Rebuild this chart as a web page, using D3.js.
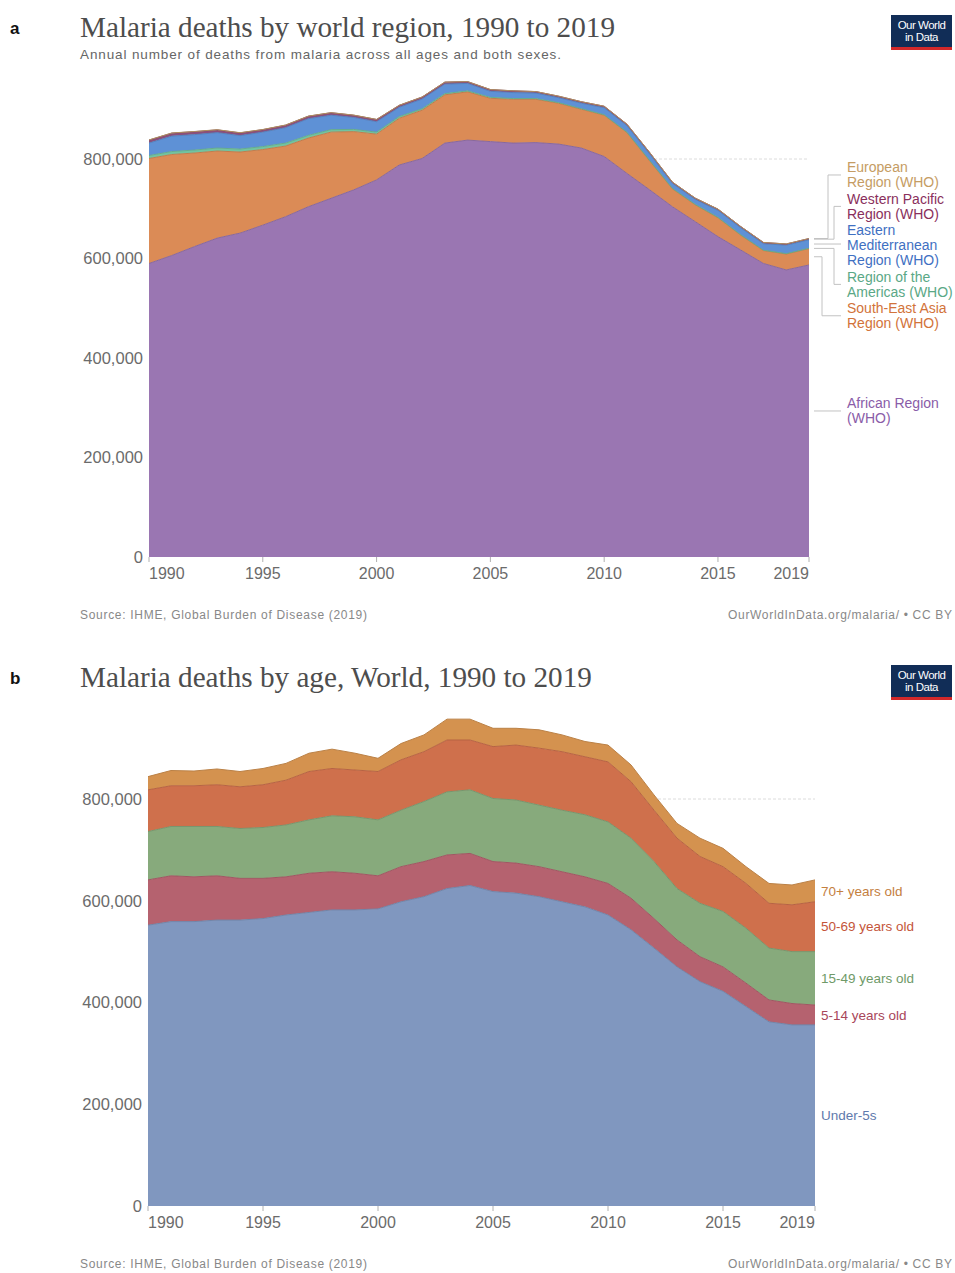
<!DOCTYPE html>
<html><head><meta charset="utf-8">
<script src="https://cdn.jsdelivr.net/npm/d3@7"></script>
<style>
body{margin:0;background:#fff;}
svg{display:block;font-family:"Liberation Sans",Arial,sans-serif;}
</style>
</head><body>
<svg id="c" width="955" height="1273"></svg>
<script>
// ---------- DATA ----------
const years = [1990,1991,1992,1993,1994,1995,1996,1997,1998,1999,2000,2001,2002,2003,2004,2005,2006,2007,2008,2009,2010,2011,2012,2013,2014,2015,2016,2017,2018,2019];
const xTickYears = [1990,1995,2000,2005,2010,2015,2019];
const yTickValues = [0,200000,400000,600000,800000];

// Chart a: deaths by WHO region (thousands)
const regionNames = ["African Region (WHO)","South-East Asia Region (WHO)","Region of the Americas (WHO)","Eastern Mediterranean Region (WHO)","Western Pacific Region (WHO)","European Region (WHO)"];
const africanRegion   = [590,606,624,641,651,667,684,704,721,738,758,788,801,832,838,835,832,833,830,822,805,771,738,704,674,644,617,590,577,587];
const southEastAsia   = [211,203,188,175,163,152,142,138,133,117,92,94,97,97,97,87,88,87,82,78,83,82,58,36,34,38,30,26,32,33];
const americas        = [6,6,6,6,6,6,6,5.5,5,4.5,4,3.5,3,2.5,2,2,1.5,1.5,1.2,1.1,1,1,1,0.9,0.8,0.7,0.7,0.7,0.7,0.6];
const easternMed      = [25,31,31,31,27,29,31,33.5,29,24,21,18.5,19.5,19,15,12,12,11,10,11,14,13,13,10,10,14,14,13,17,17];
const westernPacific  = [6,6,6,5.5,5.5,5,5,5,5,4.5,4.5,4,4,4,3.5,3.5,3.5,3,3,3,3,3,3,2.5,2.5,2.5,2.5,2.5,2.5,2.5];
const european        = [0.3,0.3,0.3,0.4,0.4,0.3,0.3,0.2,0.2,0.2,0.1,0.1,0.1,0.1,0.1,0.1,0.1,0.1,0.1,0.1,0.1,0.1,0.1,0.1,0.1,0.1,0.1,0.1,0.1,0.1];

// Chart b: deaths by age (thousands)
const ageNames = ["Under-5s","5-14 years old","15-49 years old","50-69 years old","70+ years old"];
const under5   = [552,559,559,562,562,565,572,577,582,582,584,598,608,624,630,618,615,608,598,588,572,543,507,470,441,422,392,362,356,356];
const age5to14 = [89,90,88,87,82,79,75,77,75,72,65,69,69,66,63,59,59,59,59,59,62,62,58,53,49,48,46,43,42,39];
const age15to49= [95,97,99,97,98,100,102,105,110,111,110,111,118,124,125,124,124,121,121,122,121,118,112,101,105,109,108,102,102,105];
const age50to69= [82,80,80,82,82,84,88,95,93,92,95,99,98,102,98,102,108,112,115,114,118,111,101,99,92,88,88,88,92,98];
const age70plus= [26,30,29,31,30,32,33,36,38,33,26,32,33,41,41,36,33,36,33,30,33,33,30,29,36,36,33,39,39,43];

// ---------- DRAW ----------
const svg = d3.select("#c");
const fmt = d3.format(",");

function layoutLabels(blocks, lineH, gap){
  let clusters = blocks.map(b => ({items:[b]}));
  function place(cl){
    let off = 0; const ts=[];
    cl.items.forEach(b=>{ b.off = off; b.h = b.n*lineH; ts.push(b.c - off - b.h/2); off += b.h + gap; });
    cl.H = off - gap; cl.top = d3.mean(ts);
  }
  clusters.forEach(place);
  let merged = true;
  while(merged){
    merged=false;
    for(let i=1;i<clusters.length;i++){
      const a=clusters[i-1], b=clusters[i];
      if(a.top + a.H + gap > b.top){
        const m={items:a.items.concat(b.items)}; place(m);
        clusters.splice(i-1,2,m); merged=true; break;
      }
    }
  }
  clusters.forEach(cl=>cl.items.forEach(b=>{ b.top = cl.top + b.off; b.mid = b.top + b.h/2; }));
}

function fitText(sel, w){ sel.attr("textLength", w).attr("lengthAdjust","spacing"); }

function drawChart(cfg){
  const g = svg.append("g");
  const x = d3.scaleLinear().domain([years[0], years[years.length-1]]).range([cfg.left, cfg.right]);
  const y = d3.scaleLinear().domain([0, 800000]).range([cfg.bottom, cfg.y800]);

  g.append("text").attr("x",10).attr("y",cfg.titleY-3).attr("font-size",17).attr("font-weight","bold")
    .attr("fill","#111").text(cfg.letter);
  g.append("text").attr("x",80).attr("y",cfg.titleY).attr("font-family","'Liberation Serif','Times New Roman',serif")
    .attr("font-size",29.2).attr("fill","#4d4d4d").text(cfg.title);
  if(cfg.subtitle){
    g.append("text").attr("x",80).attr("y",cfg.titleY+22).attr("font-size",13.5).attr("fill","#666")
      .text(cfg.subtitle).call(fitText, 481);
  }
  const lg = g.append("g").attr("transform",`translate(891,${cfg.titleY-22})`);
  lg.append("rect").attr("width",61).attr("height",35).attr("fill","#112d57");
  lg.append("rect").attr("y",32).attr("width",61).attr("height",3).attr("fill","#d2282a");
  lg.append("text").attr("x",30.5).attr("y",13.5).attr("text-anchor","middle").attr("font-size",11.5).attr("fill","#fff").attr("letter-spacing",-0.5).text("Our World");
  lg.append("text").attr("x",30.5).attr("y",26).attr("text-anchor","middle").attr("font-size",11.5).attr("fill","#fff").attr("letter-spacing",-0.5).text("in Data");

  g.append("g").selectAll("line").data(yTickValues.filter(v=>v>0)).join("line")
    .attr("x1",cfg.left).attr("x2",cfg.right).attr("y1",d=>y(d)).attr("y2",d=>y(d))
    .attr("stroke","#dcdcdc").attr("stroke-dasharray","3,2").attr("stroke-width",1);

  const rows = years.map((yr,i)=>{ const r={year:yr}; cfg.series.forEach(s=>r[s.name]=s.values[i]*1000); return r; });
  const stack = d3.stack().keys(cfg.series.map(s=>s.name))(rows);
  const area = d3.area().x(d=>x(d.data.year)).y0(d=>y(d[0])).y1(d=>y(d[1]));
  const line = d3.line().x(d=>x(d.data.year)).y(d=>y(d[1]));
  g.append("g").selectAll("path").data(stack).join("path")
    .attr("d",area).attr("fill",(d,i)=>cfg.series[i].fill);
  g.append("g").selectAll("path").data(stack).join("path")
    .attr("d",line).attr("fill","none").attr("stroke",(d,i)=>d3.color(cfg.series[i].fill).darker(0.35))
    .attr("stroke-width",1);

  g.append("g").selectAll("text").data(yTickValues).join("text")
    .attr("x",cfg.left-6).attr("y",d=>y(d)).attr("dy","0.35em").attr("text-anchor","end")
    .attr("font-size",16.5).attr("fill","#6b6b6b").text(d=>fmt(d));
  const xa = g.append("g");
  xa.selectAll("line").data(xTickYears).join("line")
    .attr("x1",d=>x(d)).attr("x2",d=>x(d)).attr("y1",cfg.bottom).attr("y2",cfg.bottom+5)
    .attr("stroke","#b0b0b0");
  xa.selectAll("text").data(xTickYears).join("text")
    .attr("x",d=>x(d)).attr("y",cfg.bottom+22)
    .attr("text-anchor",(d,i)=>i===0?"start":(i===xTickYears.length-1?"end":"middle"))
    .attr("font-size",16).attr("fill","#6b6b6b").text(d=>d);

  const last = years.length-1;
  const blocks = stack.map((s,i)=>({i, c:y((s[last][0]+s[last][1])/2), n:cfg.series[i].lines.length})).sort((a,b)=>a.c-b.c);
  layoutLabels(blocks, cfg.lineH, 1);
  const lgd = g.append("g");
  blocks.forEach(b=>{
    const s = cfg.series[b.i];
    if(cfg.connectors){
      const bx = s.bend;
      const path = Math.abs(b.mid-b.c)<1.5 ? `M${cfg.right+5},${b.c}H${cfg.labelX-6}` :
        `M${cfg.right+5},${b.c}H${bx}V${b.mid}H${cfg.labelX-6}`;
      lgd.append("path").attr("d",path).attr("fill","none").attr("stroke","#c2c2c2").attr("stroke-width",1);
    }
    s.lines.forEach((ln,k)=>{
      lgd.append("text").attr("x",cfg.labelX).attr("y",b.top + cfg.lineH*k + cfg.lineH/2).attr("dy","0.35em")
        .attr("font-size",cfg.legendSize).attr("fill",s.text).text(ln);
    });
  });

  g.append("text").attr("x",80).attr("y",cfg.footY).attr("font-size",12).attr("fill","#888")
    .text("Source: IHME, Global Burden of Disease (2019)").call(fitText, 287);
  g.append("text").attr("x",952).attr("y",cfg.footY).attr("text-anchor","end").attr("font-size",12).attr("fill","#888")
    .text("OurWorldInData.org/malaria/ • CC BY").call(fitText, 224);
}

drawChart({
  letter:"a", title:"Malaria deaths by world region, 1990 to 2019",
  subtitle:"Annual number of deaths from malaria across all ages and both sexes.",
  titleY:37, left:149, right:809, bottom:557, y800:159, footY:619,
  connectors:true, labelX:847, lineH:15.2, legendSize:14,
  series:[
    {name:regionNames[0], values:africanRegion, fill:"#9a76b2", text:"#8a5ca8", lines:["African Region","(WHO)"], bend:828},
    {name:regionNames[1], values:southEastAsia, fill:"#db8b56", text:"#d2733a", lines:["South-East Asia","Region (WHO)"], bend:822},
    {name:regionNames[2], values:americas, fill:"#72c3a0", text:"#5aa886", lines:["Region of the","Americas (WHO)"], bend:834},
    {name:regionNames[3], values:easternMed, fill:"#5e91d6", text:"#3f70c2", lines:["Eastern","Mediterranean","Region (WHO)"], bend:830},
    {name:regionNames[4], values:westernPacific, fill:"#8c4f7a", text:"#8a2f5c", lines:["Western Pacific","Region (WHO)"], bend:834},
    {name:regionNames[5], values:european, fill:"#c9a26b", text:"#c59c63", lines:["European","Region (WHO)"], bend:828}
  ]
});

drawChart({
  letter:"b", title:"Malaria deaths by age, World, 1990 to 2019",
  subtitle:null,
  titleY:687, left:148, right:815, bottom:1206, y800:799, footY:1268,
  connectors:false, labelX:821, lineH:15, legendSize:13.5,
  series:[
    {name:ageNames[0], values:under5, fill:"#8097bf", text:"#5f7aad", lines:["Under-5s"]},
    {name:ageNames[1], values:age5to14, fill:"#b5626f", text:"#a8465a", lines:["5-14 years old"]},
    {name:ageNames[2], values:age15to49, fill:"#87aa7c", text:"#6f9a68", lines:["15-49 years old"]},
    {name:ageNames[3], values:age50to69, fill:"#cf704c", text:"#c4553a", lines:["50-69 years old"]},
    {name:ageNames[4], values:age70plus, fill:"#d4924f", text:"#c4803f", lines:["70+ years old"]}
  ]
});
</script>
</body></html>
